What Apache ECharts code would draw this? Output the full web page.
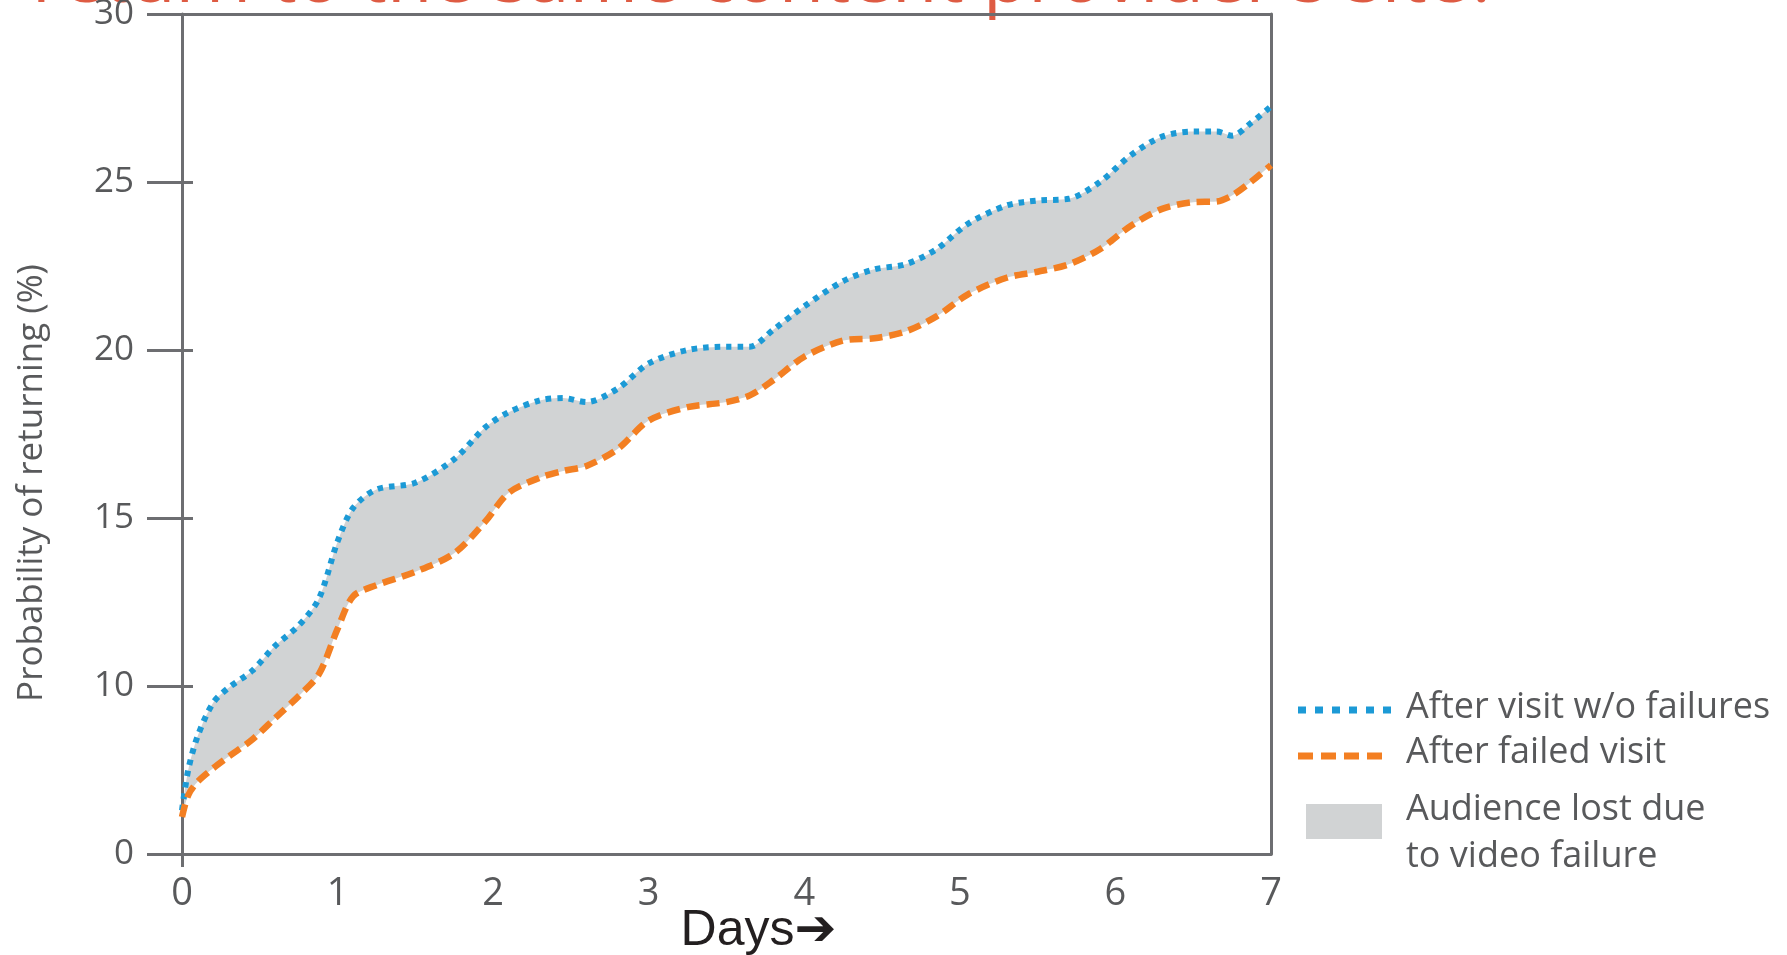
<!DOCTYPE html>
<html>
<head>
<meta charset="utf-8">
<title>Probability of returning</title>
<script src="https://cdn.jsdelivr.net/npm/echarts@6/dist/echarts.min.js"></script>
<style>
  html, body { margin: 0; padding: 0; background: #fff; }
  #chart { width: 1787px; height: 955px; }
</style>
</head>
<body>
<div id="chart"></div>
<script>
// x positions (days since the visit) at which the curves were read
const days = [0, 0.04, 0.1, 0.2, 0.3, 0.45, 0.6, 0.75, 0.88, 1.0, 1.1, 1.25, 1.5, 1.75, 1.95,
  2.1, 2.3, 2.45, 2.6, 2.8, 3.0, 3.25, 3.5, 3.65, 3.8, 4.0, 4.25, 4.45, 4.65, 4.85,
  5.05, 5.3, 5.5, 5.7, 5.9, 6.1, 6.3, 6.5, 6.65, 6.75, 6.87, 7.0];

// upper curve (blue, dotted)
const withoutFailures = [6.3, 7.5, 8.5, 9.5, 9.95, 10.45, 11.2, 11.8, 12.6, 14.3, 15.3, 15.85, 16.05, 16.75, 17.7,
  18.15, 18.5, 18.57, 18.45, 18.85, 19.6, 20.0, 20.1, 20.1, 20.6, 21.3, 22.05, 22.4, 22.55, 23.0,
  23.75, 24.3, 24.45, 24.5, 25.0, 25.8, 26.35, 26.5, 26.5, 26.38, 26.75, 27.25];

// lower curve (orange, dashed)
const afterFailedVisit = [6.1, 6.75, 7.15, 7.55, 7.9, 8.4, 9.05, 9.7, 10.35, 11.7, 12.67, 13.0, 13.4, 13.95, 14.9,
  15.75, 16.2, 16.4, 16.55, 17.05, 17.9, 18.3, 18.45, 18.65, 19.1, 19.8, 20.28, 20.35, 20.55, 21.0,
  21.65, 22.15, 22.33, 22.55, 23.0, 23.7, 24.2, 24.4, 24.42, 24.6, 25.0, 25.5];

const xTickLabels = ['0', '1', '2', '3', '4', '5', '6', '7'];
// the printed axis starts its first step at "0" and then goes 10, 15, ...
const yTickLabels = ['0', '10', '15', '20', '25', '30'];

const legendLabels = ['After visit w/o failures', 'After failed visit', 'Audience lost due\nto video failure'];

const blue = '#1c9ad6';
const orange = '#f37f22';
const bandGray = '#d1d3d4';
const axisGray = '#6d6e71';
const textGray = '#58595b';

const container = document.getElementById('chart');
const chart = echarts.init(container);

const toPairs = (vals) => days.map((d, i) => [d, vals[i]]);

const hiddenAxis = {
  axisLabel: { show: false },
  axisTick: { show: false },
  splitLine: { show: false }
};

const option = {
  backgroundColor: '#fff',
  animation: false,
  grid: { left: 182, top: 14, right: 516, bottom: 101, outerBoundsMode: 'none' },
  xAxis: [
    {
      type: 'value', min: 0, max: 7, interval: 1, z: 3,
      axisLine: { lineStyle: { color: axisGray, width: 3 } },
      axisTick: { customValues: [0], length: 13, lineStyle: { color: axisGray, width: 3 } },
      axisLabel: {
        margin: 21, fontSize: 38, color: textGray, fontFamily: '"Open Sans"',
        formatter: (v, i) => xTickLabels[i]
      },
      splitLine: { show: false },
      name: 'Days\u2794',
      nameLocation: 'middle',
      nameGap: 52,
      nameMoveOverlap: false,
      nameTextStyle: {
        fontSize: 50, color: '#231f20', fontFamily: '"Liberation Sans", "DejaVu Sans"',
        padding: [0, 0, 0, 64]
      }
    },
    Object.assign({
      type: 'value', min: 0, max: 7, position: 'top', z: 3,
      axisLine: { lineStyle: { color: axisGray, width: 3 } }
    }, hiddenAxis)
  ],
  yAxis: [
    {
      type: 'value', min: 5, max: 30, interval: 5, z: 3,
      axisLine: { lineStyle: { color: axisGray, width: 3 } },
      axisTick: { length: 35, lineStyle: { color: axisGray, width: 3 } },
      axisLabel: {
        margin: 48, fontSize: 35, color: textGray, fontFamily: '"Open Sans"',
        formatter: (v, i) => yTickLabels[i]
      },
      splitLine: { show: false }
    },
    {
      type: 'value', min: 5, max: 30, interval: 5, position: 'left', z: 3,
      axisLine: { show: false },
      axisTick: { inside: true, length: 11, lineStyle: { color: axisGray, width: 3 } },
      axisLabel: { show: false },
      splitLine: { show: false }
    },
    Object.assign({
      type: 'value', min: 5, max: 30, position: 'right', z: 3,
      axisLine: { lineStyle: { color: axisGray, width: 3 } }
    }, hiddenAxis)
  ],
  series: [
    {
      name: 'band', type: 'line', data: toPairs(withoutFailures), smooth: 0.3,
      symbol: 'none', silent: true, z: 1,
      lineStyle: { opacity: 0 },
      areaStyle: { color: bandGray, opacity: 1 }
    },
    {
      name: 'band-mask', type: 'line', data: toPairs(afterFailedVisit), smooth: 0.3,
      symbol: 'none', silent: true, z: 1,
      lineStyle: { opacity: 0 },
      areaStyle: { color: '#ffffff', opacity: 1 }
    },
    {
      name: legendLabels[0], type: 'line', data: toPairs(withoutFailures), smooth: 0.3,
      symbol: 'none', z: 4,
      lineStyle: { color: blue, width: 6, type: [5.5, 6], cap: 'butt' }
    },
    {
      name: legendLabels[1], type: 'line', data: toPairs(afterFailedVisit), smooth: 0.3,
      symbol: 'none', z: 4,
      lineStyle: { color: orange, width: 6.5, type: [13, 7], cap: 'butt' }
    }
  ],
  graphic: [
    // title line, mostly cut off at the top of the picture
    {
      type: 'text', x: 32, y: 18, silent: true,
      style: {
        text: "return to the same content provider's site?",
        fontSize: 74, fontFamily: '"Open Sans"', fill: '#de5b43',
        align: 'left', verticalAlign: 'bottom'
      }
    },
    {
      type: 'text', x: 32, y: 483, rotation: Math.PI / 2, silent: true,
      style: {
        text: 'Probability of returning (%)',
        fontSize: 35, fontFamily: '"Open Sans"', fill: textGray,
        align: 'center', verticalAlign: 'middle'
      }
    },
    // legend
    {
      type: 'line', silent: true,
      shape: { x1: 1298, y1: 710, x2: 1392, y2: 710 },
      style: { stroke: blue, lineWidth: 7, lineDash: [8, 9] }
    },
    {
      type: 'line', silent: true,
      shape: { x1: 1298, y1: 756, x2: 1383, y2: 756 },
      style: { stroke: orange, lineWidth: 7, lineDash: [15, 8] }
    },
    {
      type: 'rect', silent: true,
      shape: { x: 1306, y: 804, width: 76, height: 35 },
      style: { fill: bandGray }
    },
    {
      type: 'text', x: 1406, y: 708, silent: true,
      style: { text: legendLabels[0], fontSize: 36, fontFamily: '"Open Sans"', fill: textGray, verticalAlign: 'middle' }
    },
    {
      type: 'text', x: 1406, y: 753, silent: true,
      style: { text: legendLabels[1], fontSize: 36, fontFamily: '"Open Sans"', fill: textGray, verticalAlign: 'middle' }
    },
    {
      type: 'text', x: 1406, y: 833, silent: true,
      style: { text: legendLabels[2], fontSize: 36, lineHeight: 47, fontFamily: '"Open Sans"', fill: textGray, verticalAlign: 'middle' }
    }
  ]
};

chart.setOption(option, true);
</script>
</body>
</html>
